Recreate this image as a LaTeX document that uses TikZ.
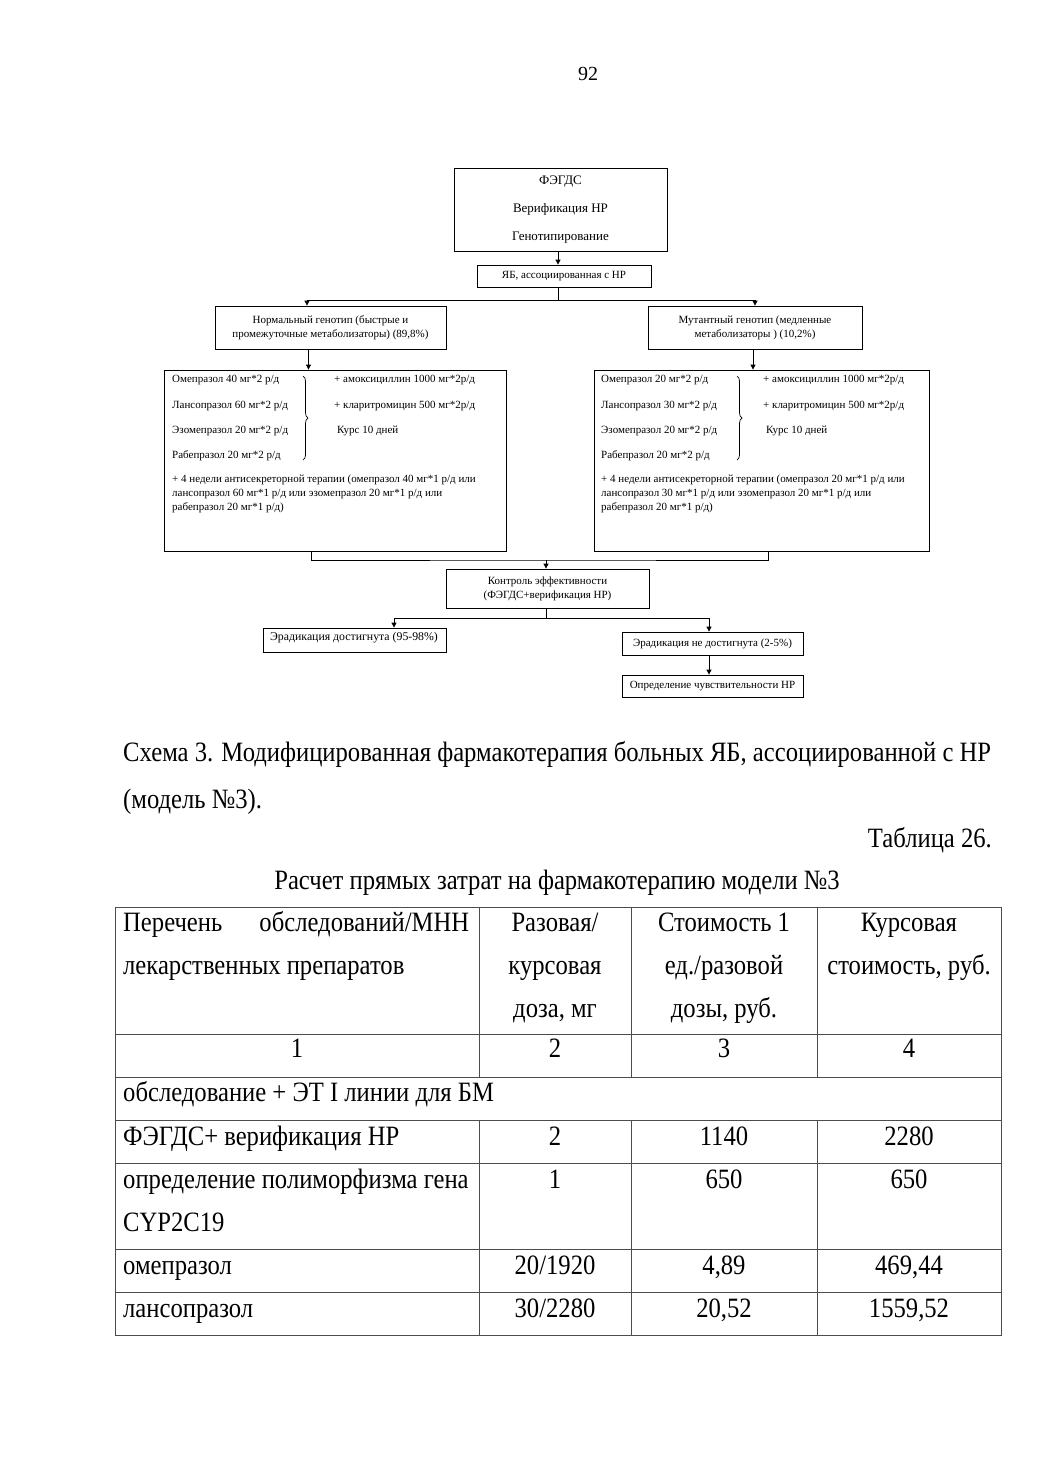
\documentclass[tikz,border=0pt]{standalone}
\usepackage{fontspec}
\setmainfont{Liberation Serif}
\newfontfamily\tnr{Liberation Serif}[FakeStretch=0.88]
\usetikzlibrary{arrows.meta,decorations.pathreplacing}
\begin{document}
\begin{tikzpicture}[x=1pt,y=-1pt,
  box/.style={draw,line width=0.8pt,inner sep=0pt,align=center,font=\fontsize{11}{14}\selectfont},
  sm/.style={inner sep=0pt,font=\fontsize{11}{14}\selectfont},
  arr/.style={line width=0.8pt,-{Triangle[length=5pt,width=5pt]}},
  ln/.style={line width=0.8pt},
  big/.style={inner sep=0pt,font=\tnr\fontsize{28}{43}\selectfont},
  tl/.style={line width=1pt,black!70},
  brc/.style={line width=0.7pt,decorate,decoration={brace,amplitude=5pt}}]
\useasboundingbox[fill=white] (0,0) rectangle (1041,1472);

% page number
\node[inner sep=0pt,font=\fontsize{20}{24}\selectfont,anchor=base] (pg) at (588,81) {92};

% ---------- diagram ----------
\node[box,font=\fontsize{13}{14}\selectfont,minimum width=213,minimum height=83] (top) at (560.5,209.5)
  {ФЭГДС\\[14pt]Верификация НР\\[14pt]Генотипирование};
\node[box,minimum width=174,minimum height=22] (yb) at (564,276) {ЯБ, ассоциированная с НР};
\node[box,minimum width=231,minimum height=43] (norm) at (330.5,327.5)
  {Нормальный генотип (быстрые и\\промежуточные метаболизаторы) (89,8\%)};
\node[box,minimum width=214,minimum height=43] (mut) at (755,327.5)
  {Мутантный генотип (медленные\\метаболизаторы ) (10,2\%)};
\node[box,minimum width=342,minimum height=181] (bigL) at (335,460.5) {};
\node[box,minimum width=335,minimum height=181] (bigR) at (761.5,460.5) {};
\node[box,minimum width=203,minimum height=39] (ctrl) at (547.5,588.5)
  {Контроль эффективности\\(ФЭГДС+верификация НР)};
\node[box,minimum width=183,minimum height=24] (erY) at (354.5,640) {};
\node[sm,font=\fontsize{11.8}{14}\selectfont,anchor=west] (erYt) at (270,638) {Эрадикация достигнута (95-98\%)};
\node[box,minimum width=181,minimum height=23] (erN) at (712.5,643.5) {Эрадикация не достигнута (2-5\%)};
\node[box,minimum width=181,minimum height=22] (opr) at (712.5,686) {Определение чувствительности НР};

% left big box contents
\node[sm,anchor=west] (l1) at (172,380) {Омепразол 40 мг*2 р/д};
\node[sm,anchor=west] (l2) at (172,406) {Лансопразол 60 мг*2 р/д};
\node[sm,anchor=west] (l3) at (172,431) {Эзомепразол 20 мг*2 р/д};
\node[sm,anchor=west] (l4) at (172,456) {Рабепразол 20 мг*2 р/д};
\node[sm,anchor=west] (l5) at (334,380) {+ амоксициллин 1000 мг*2р/д};
\node[sm,anchor=west] (l6) at (334,406) {+ кларитромицин 500 мг*2р/д};
\node[sm,anchor=west] (l7) at (337,431) {Курс 10 дней};
\node[sm,anchor=north west,align=left] (l8) at (172,475)
  {+ 4 недели антисекреторной терапии (омепразол 40 мг*1 р/д или\\лансопразол 60 мг*1 р/д или эзомепразол 20 мг*1 р/д или\\рабепразол 20 мг*1 р/д)};
\draw[brc] (303,376) -- (303,460);

% right big box contents
\node[sm,anchor=west] (r1) at (601,380) {Омепразол 20 мг*2 р/д};
\node[sm,anchor=west] (r2) at (601,406) {Лансопразол 30 мг*2 р/д};
\node[sm,anchor=west] (r3) at (601,431) {Эзомепразол 20 мг*2 р/д};
\node[sm,anchor=west] (r4) at (601,456) {Рабепразол 20 мг*2 р/д};
\node[sm,anchor=west] (r5) at (763,380) {+ амоксициллин 1000 мг*2р/д};
\node[sm,anchor=west] (r6) at (763,406) {+ кларитромицин 500 мг*2р/д};
\node[sm,anchor=west] (r7) at (766,431) {Курс 10 дней};
\node[sm,anchor=north west,align=left] (r8) at (601,475)
  {+ 4 недели антисекреторной терапии (омепразол 20 мг*1 р/д или\\лансопразол 30 мг*1 р/д или эзомепразол 20 мг*1 р/д или\\рабепразол 20 мг*1 р/д)};
\draw[brc] (737,376) -- (737,460);

% connectors
\draw[arr] ([xshift=-2.5pt]top.south) -- ([xshift=-2.5pt]top.south |- yb.north);
\coordinate (s1) at (558,300);
\draw[ln] ([xshift=-2.5pt]top.south |- yb.south) -- (s1);
\draw[arr] (s1) -| ([xshift=-23.5pt]norm.north);
\draw[arr] (s1) -| (mut.north);
\draw[arr] ([xshift=-22pt]norm.south) -- ([xshift=-22pt]norm.south |- bigL.north);
\draw[arr] ([xshift=-2pt]mut.south) -- ([xshift=-2pt]mut.south |- bigR.north);
\coordinate (s2) at (546,560);
\draw[ln] ([xshift=-24pt]bigL.south) |- (s2) -| ([xshift=6.5pt]bigR.south);
\draw[arr] (s2) -- (s2 |- ctrl.north);
\coordinate (s3) at (546,618);
\draw[ln] (s3 |- ctrl.south) -- (s3);
\draw[arr] (s3) -| ([xshift=39.5pt]erY.north);
\draw[arr] (s3) -| ([xshift=-3.5pt]erN.north);
\draw[arr] ([xshift=-3.5pt]erN.south) -- ([xshift=-3.5pt]erN.south |- opr.north);

% ---------- caption ----------
\node[big,anchor=base west] (cap1) at (123,761) {Схема 3. Модифицированная фармакотерапия больных ЯБ, ассоциированной с НР};
\node[big,anchor=base west] (cap2) at (123,808) {(модель №3).};
\node[big,anchor=base east] (tab) at (992,847) {Таблица 26.};
\node[big,anchor=base] (ttl) at (557,889) {Расчет прямых затрат на фармакотерапию модели №3};

% ---------- table ----------
\draw[tl] (115,907) rectangle (1001,1335);
\foreach \yy in {1034,1077,1120,1163,1249,1292} \draw[tl] (115,\yy) -- (1001,\yy);
\foreach \xx in {479,631,817} {
  \draw[tl] (\xx,907) -- (\xx,1077);
  \draw[tl] (\xx,1120) -- (\xx,1335);
}
\node[big,anchor=base west] (h1a) at (123,931) {\makebox[346pt][s]{Перечень\hfill обследований/МНН}};
\node[big,anchor=base west] (h1b) at (123,974) {лекарственных препаратов};
\node[big,anchor=base] (h2a) at (555,931) {Разовая/};
\node[big,anchor=base] (h2b) at (555,974) {курсовая};
\node[big,anchor=base] (h2c) at (555,1017) {доза, мг};
\node[big,anchor=base] (h3a) at (724,931) {Стоимость 1};
\node[big,anchor=base] (h3b) at (724,974) {ед./разовой};
\node[big,anchor=base] (h3c) at (724,1017) {дозы, руб.};
\node[big,anchor=base] (h4a) at (909,931) {Курсовая};
\node[big,anchor=base] (h4b) at (909,974) {стоимость, руб.};

\node[big,anchor=base] (n1) at (297,1057) {1};
\node[big,anchor=base] (n2) at (555,1057) {2};
\node[big,anchor=base] (n3) at (724,1057) {3};
\node[big,anchor=base] (n4) at (909,1057) {4};

\node[big,anchor=base west] (sec) at (123,1101) {обследование + ЭТ I линии для БМ};

\node[big,anchor=base west] (a1) at (123,1145) {ФЭГДС+ верификация НР};
\node[big,anchor=base] (a2) at (555,1145) {2};
\node[big,anchor=base] (a3) at (724,1145) {1140};
\node[big,anchor=base] (a4) at (909,1145) {2280};

\node[big,anchor=base west] (b1) at (123,1188) {определение полиморфизма гена};
\node[big,anchor=base west] (b1b) at (123,1231) {CYP2C19};
\node[big,anchor=base] (b2) at (555,1188) {1};
\node[big,anchor=base] (b3) at (724,1188) {650};
\node[big,anchor=base] (b4) at (909,1188) {650};

\node[big,anchor=base west] (c1) at (123,1274) {омепразол};
\node[big,anchor=base] (c2) at (555,1274) {20/1920};
\node[big,anchor=base] (c3) at (724,1274) {4,89};
\node[big,anchor=base] (c4) at (909,1274) {469,44};

\node[big,anchor=base west] (d1) at (123,1317) {лансопразол};
\node[big,anchor=base] (d2) at (555,1317) {30/2280};
\node[big,anchor=base] (d3) at (724,1317) {20,52};
\node[big,anchor=base] (d4) at (909,1317) {1559,52};
\end{tikzpicture}
\end{document}
